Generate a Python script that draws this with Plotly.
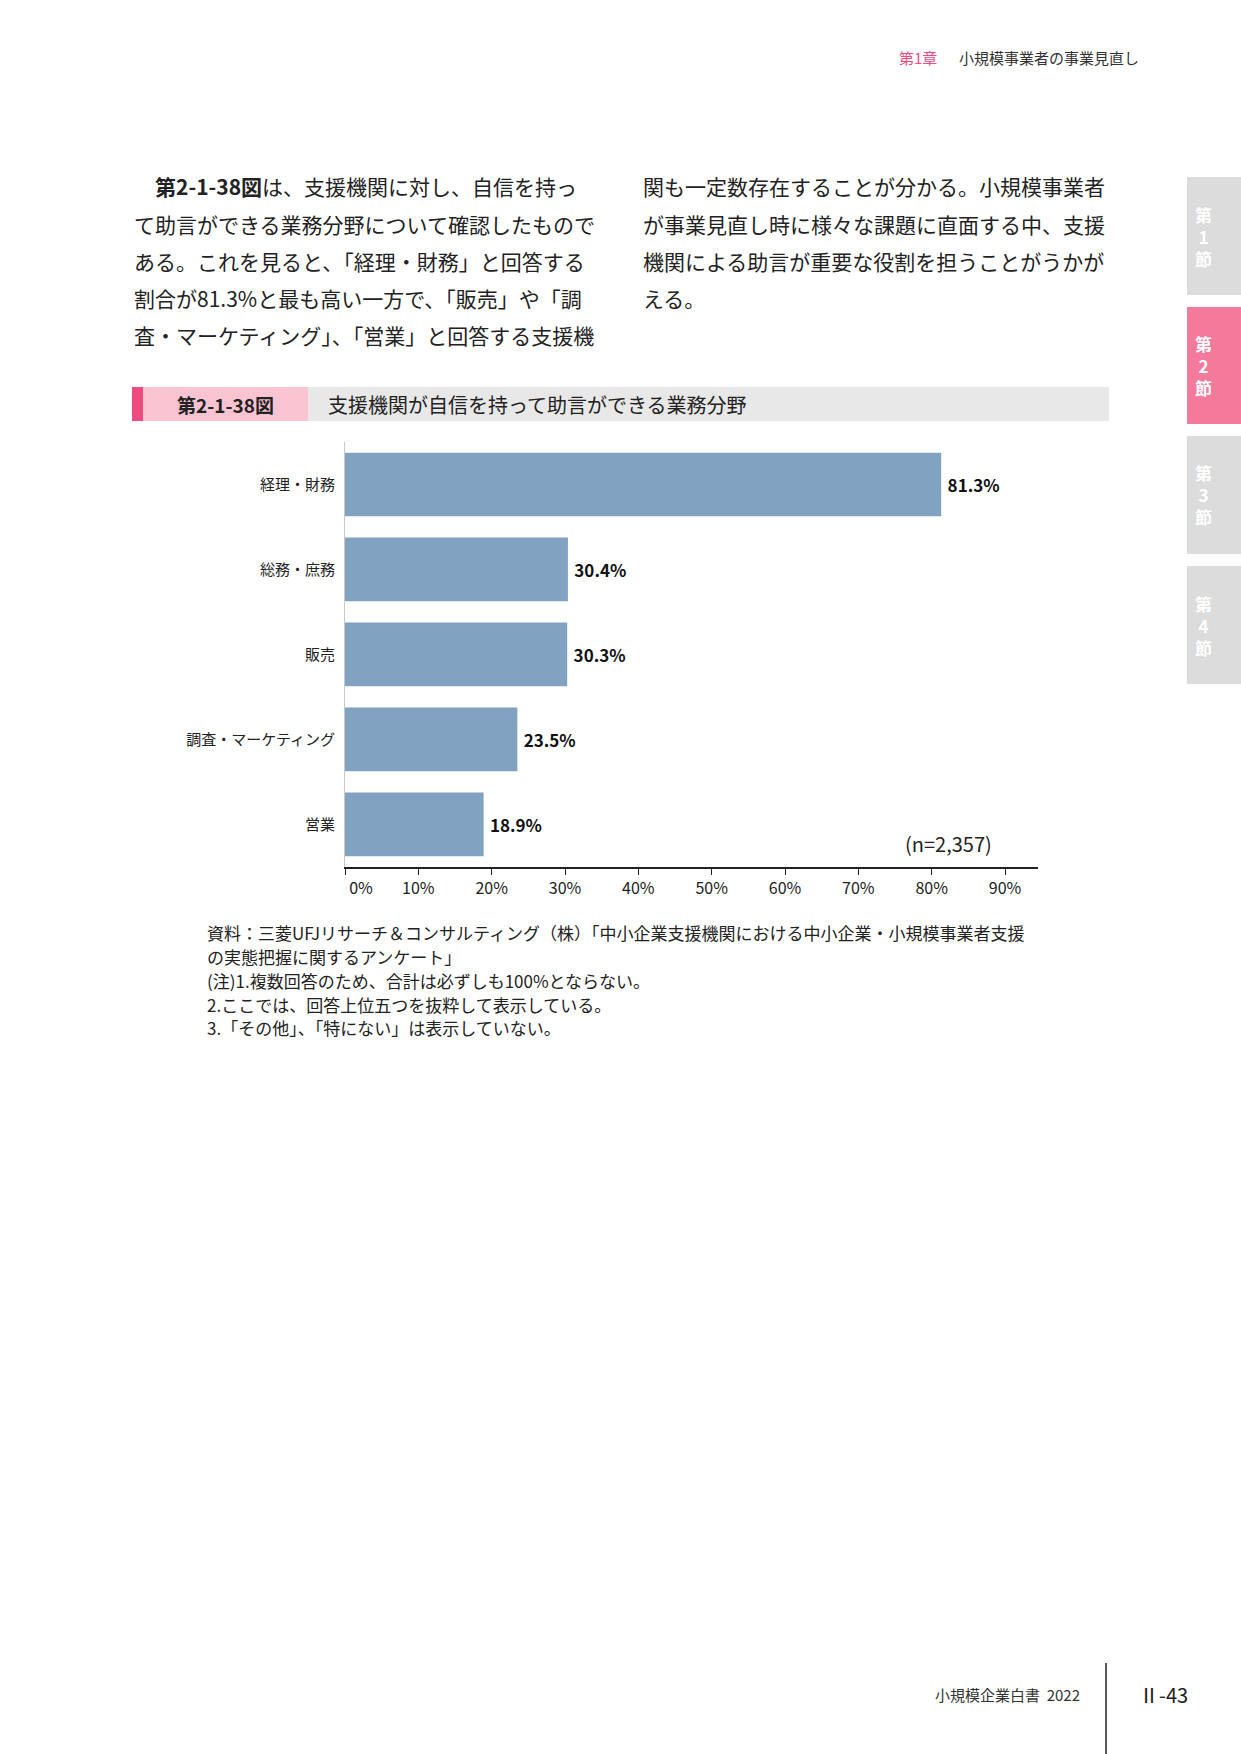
import plotly.graph_objects as go

W, H = 1241, 1754

categories = ["経理・財務", "総務・庶務", "販売", "調査・マーケティング", "営業"]
values = [81.3, 30.4, 30.3, 23.5, 18.9]
tick_vals = [0, 10, 20, 30, 40, 50, 60, 70, 80, 90]
tick_text = ["\u2003\u20030%", "10%", "20%", "30%", "40%", "50%", "60%", "70%", "80%", "90%"]

body_left = [
    "\u3000<b>第2-1-38図</b>は、支援機関に対し、自信を持っ",
    "て助言ができる業務分野について確認したもので",
    "ある。これを見ると、「経理・財務」と回答する",
    "割合が81.3%と最も高い一方で、「販売」や「調",
    "査・マーケティング」、「営業」と回答する支援機",
]
body_right = [
    "関も一定数存在することが分かる。小規模事業者",
    "が事業見直し時に様々な課題に直面する中、支援",
    "機関による助言が重要な役割を担うことがうかが",
    "える。",
]
notes = [
    "資料：三菱UFJリサーチ＆コンサルティング（株）「中小企業支援機関における中小企業・小規模事業者支援",
    "の実態把握に関するアンケート」",
    "(注)1.複数回答のため、合計は必ずしも100%とならない。",
    "2.ここでは、回答上位五つを抜粋して表示している。",
    "3.「その他」、「特にない」は表示していない。",
]

FONT = "Noto Sans CJK JP"
BAR = "#82A2C1"
PINK = "#EE4C80"


def px(x):
    return x / W


def py(y):
    return 1 - y / H


fig = go.Figure()
fig.add_trace(go.Bar(
    x=values, y=categories, orientation="h",
    marker=dict(color=BAR, line=dict(width=0)),
    width=0.75,
    text=[f"\u2009<b>{v:.1f}%</b>" for v in values],
    textposition="outside",
    textfont=dict(family=FONT, size=17, color="#111111"),
    cliponaxis=False,
    hoverinfo="skip",
))

annotations = []
shapes = []

# header
annotations.append(dict(x=px(897), y=py(57), xref="paper", yref="paper", text="第1章",
                        showarrow=False, xanchor="left", yanchor="middle",
                        font=dict(family=FONT, size=15, color=PINK)))
annotations.append(dict(x=px(957), y=py(57), xref="paper", yref="paper", text="小規模事業者の事業見直し",
                        showarrow=False, xanchor="left", yanchor="middle",
                        font=dict(family=FONT, size=15, color="#333333")))

# body text
line_y = [186, 224, 261, 298, 335]
for i, t in enumerate(body_left):
    annotations.append(dict(x=px(132), y=py(line_y[i]), xref="paper", yref="paper", text=t,
                            showarrow=False, xanchor="left", yanchor="middle",
                            font=dict(family=FONT, size=21, color="#222222")))
for i, t in enumerate(body_right):
    annotations.append(dict(x=px(641), y=py(line_y[i]), xref="paper", yref="paper", text=t,
                            showarrow=False, xanchor="left", yanchor="middle",
                            font=dict(family=FONT, size=21, color="#222222")))

# title bar
shapes.append(dict(type="rect", xref="paper", yref="paper", x0=px(132), x1=px(1109),
                   y0=py(421), y1=py(387), fillcolor="#E8E8E8", line=dict(width=0), layer="below"))
shapes.append(dict(type="rect", xref="paper", yref="paper", x0=px(132), x1=px(308),
                   y0=py(421), y1=py(387), fillcolor="#FAC3D2", line=dict(width=0), layer="below"))
shapes.append(dict(type="rect", xref="paper", yref="paper", x0=px(132), x1=px(143),
                   y0=py(421), y1=py(387), fillcolor=PINK, line=dict(width=0), layer="below"))
annotations.append(dict(x=px(225), y=py(404), xref="paper", yref="paper", text="<b>第2-1-38図</b>",
                        showarrow=False, xanchor="center", yanchor="middle",
                        font=dict(family=FONT, size=19, color="#222222")))
annotations.append(dict(x=px(326), y=py(404), xref="paper", yref="paper",
                        text="支援機関が自信を持って助言ができる業務分野",
                        showarrow=False, xanchor="left", yanchor="middle",
                        font=dict(family=FONT, size=20, color="#222222")))

# n label
annotations.append(dict(x=px(994), y=py(843), xref="paper", yref="paper", text="(n=2,357)",
                        showarrow=False, xanchor="right", yanchor="middle",
                        font=dict(family=FONT, size=20, color="#222222")))

# notes
note_y = [932, 956, 980, 1004, 1027]
for i, t in enumerate(notes):
    annotations.append(dict(x=px(205), y=py(note_y[i]), xref="paper", yref="paper", text=t,
                            showarrow=False, xanchor="left", yanchor="middle",
                            font=dict(family=FONT, size=17, color="#222222")))

# side tabs
tabs = [(177, 295, "#DCDCDC", "1"), (307, 424, "#F47A9C", "2"),
        (436, 554, "#DCDCDC", "3"), (566, 684, "#DCDCDC", "4")]
for y0, y1, col, n in tabs:
    shapes.append(dict(type="rect", xref="paper", yref="paper", x0=px(1187), x1=px(1241),
                       y0=py(y1), y1=py(y0), fillcolor=col, line=dict(width=0), layer="below"))
    annotations.append(dict(x=px(1203), y=py((y0 + y1) / 2), xref="paper", yref="paper",
                            text=f"<b>第<br>{n}<br>節</b>", showarrow=False, xanchor="center", yanchor="middle",
                            font=dict(family=FONT, size=17, color="white")))

# footer
annotations.append(dict(x=px(1082), y=py(1694), xref="paper", yref="paper", text="小規模企業白書  2022",
                        showarrow=False, xanchor="right", yanchor="middle",
                        font=dict(family=FONT, size=15, color="#333333")))
shapes.append(dict(type="line", xref="paper", yref="paper", x0=px(1106), x1=px(1106),
                   y0=py(1754), y1=py(1663), line=dict(color="#222222", width=1.5)))
annotations.append(dict(x=px(1137), y=py(1694), xref="paper", yref="paper", text="Ⅱ-43",
                        showarrow=False, xanchor="left", yanchor="middle",
                        font=dict(family=FONT, size=20, color="#222222")))

fig.update_layout(
    width=W, height=H,
    margin=dict(l=0, r=0, t=0, b=0, autoexpand=False),
    paper_bgcolor="white", plot_bgcolor="white",
    showlegend=False,
    bargap=0.25,
    font=dict(family=FONT, color="#222222"),
    xaxis=dict(
        domain=[px(345), px(1038)],
        range=[0, 94.5],
        tickvals=tick_vals, ticktext=tick_text,
        ticks="outside", ticklen=6, tickcolor="#222222", tickwidth=1,
        showline=True, linecolor="#222222", linewidth=1.5,
        showgrid=False, zeroline=False, automargin=False,
        tickfont=dict(family=FONT, size=16, color="#222222"),
        fixedrange=True,
    ),
    yaxis=dict(
        domain=[py(867), py(442)],
        categoryorder="array", categoryarray=categories,
        autorange=False, range=[4.5, -0.5],
        showline=True, linecolor="#C8C8C8", linewidth=1,
        ticks="", ticklabelstandoff=6,
        showgrid=False, zeroline=False, automargin=False,
        tickfont=dict(family=FONT, size=15, color="#222222"),
        fixedrange=True,
    ),
    annotations=annotations,
    shapes=shapes,
)

fig.write_html("out.html")
